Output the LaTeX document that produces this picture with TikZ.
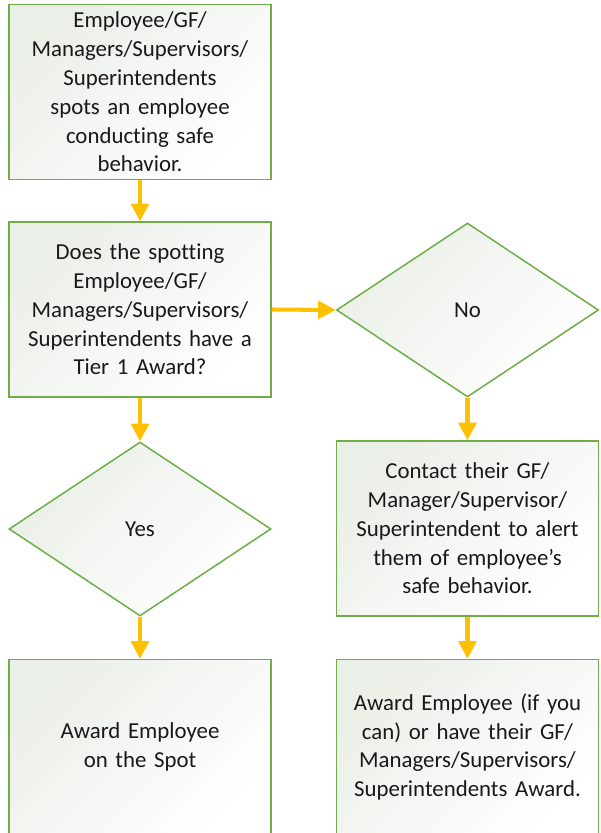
\documentclass[tikz,border=0pt]{standalone}
\usepackage{fontspec}
\setmainfont[Ligatures=NoCommon]{Carlito}
\usepackage{xcolor}
\usetikzlibrary{positioning, shapes.geometric, arrows.meta}
\definecolor{edgegreen}{RGB}{112,173,71}
\definecolor{boxfill}{RGB}{234,239,231}
\definecolor{arrowgold}{RGB}{255,192,0}
\definecolor{inkgray}{RGB}{25,25,25}
\begin{document}
\begin{tikzpicture}[
  every node/.style={font=\fontsize{13}{16.4}\selectfont, text=inkgray},
  stepbox/.style={draw=edgegreen, line width=0.85pt, shading=axis, top color=boxfill, bottom color=white, shading angle=45, minimum width=5.24cm, minimum height=3.5cm, text width=5.1cm, align=center, inner sep=1pt},
  choice/.style={diamond, draw=edgegreen, line width=0.85pt, shading=axis, top color=boxfill, bottom color=white, shading angle=45, minimum width=5.24cm, minimum height=3.48cm, inner sep=0pt, align=center},
  flow/.style={draw=arrowgold, line width=2.3pt, -{Triangle[width=10pt, length=10pt]}}
]
\useasboundingbox (0,0) rectangle (12.02,-16.66);

% Left column
\node[stepbox] (spot) at (2.80,-1.84) {Employee/GF/\\Managers/Supervisors/\\Superintendents\\spots an employee\\conducting safe\\behavior.};
\node[stepbox] (tier) at (2.80,-6.19) {Does the spotting\\Employee/GF/\\Managers/Supervisors/\\Superintendents have a\\Tier 1 Award?};
\node[choice] (yes) at (2.80,-10.58) {Yes};
\node[stepbox] (onspot) at (2.80,-14.94) {Award Employee\\on the Spot};

% Right column
\node[choice] (no) at (9.35,-6.20) {No};
\node[stepbox] (contact) at (9.35,-10.57) {Contact their GF/\\Manager/Supervisor/\\Superintendent to alert\\them of employee’s\\safe behavior.};
\node[stepbox] (award) at (9.35,-14.94) {Award Employee (if you\\can) or have their GF/\\Managers/Supervisors/\\Superintendents Award.};

% Arrows
\draw[flow] (spot) -- (tier);
\draw[flow] (tier) -- (yes);
\draw[flow] (yes) -- (onspot);
\draw[flow] (tier.east) -- (no.west);
\draw[flow] (no) -- (contact);
\draw[flow] (contact) -- (award);
\end{tikzpicture}
\end{document}
